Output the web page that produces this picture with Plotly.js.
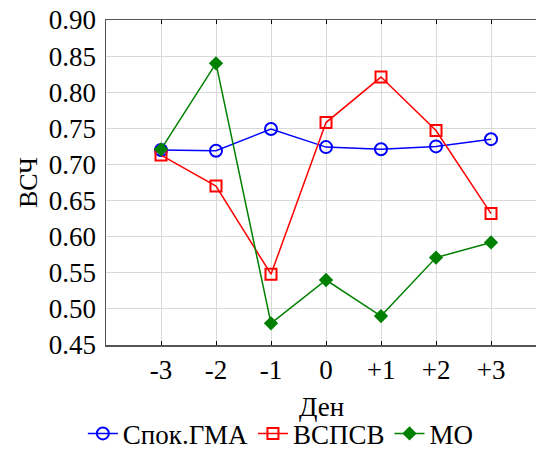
<!DOCTYPE html>
<html>
<head>
<meta charset="utf-8">
<script src="https://cdn.plot.ly/plotly-3.0.1.min.js"></script>
<style>html,body{margin:0;padding:0;background:#fff;}#chart{width:536px;height:451px;}</style>
</head>
<body>
<div id="chart"></div>
<script>
const days = ["-3", "-2", "-1", "0", "+1", "+2", "+3"];
const dayIdx = [0, 1, 2, 3, 4, 5, 6];
const spokGMA = [0.720, 0.719, 0.749, 0.724, 0.721, 0.725, 0.735];
const vspsv = [0.713, 0.670, 0.548, 0.758, 0.821, 0.747, 0.632];
const mo = [0.721, 0.840, 0.480, 0.540, 0.490, 0.571, 0.592];
const seriesNames = ["Спок.ГМА", "ВСПСВ", "МО"];
const yTicks = [0.45, 0.50, 0.55, 0.60, 0.65, 0.70, 0.75, 0.80, 0.85, 0.90];
const xTitle = 'Ден';
const yTitle = 'ВСЧ';

const fontFam = 'Liberation Serif';
const fs = 27;

const traces = [
  {x: dayIdx, y: spokGMA, name: seriesNames[0], mode: 'lines+markers', type: 'scatter',
   line: {color: '#0000ff', width: 1.5},
   marker: {symbol: 'circle-open', size: 12, color: '#0000ff', line: {width: 2, color: '#0000ff'}}},
  {x: dayIdx, y: vspsv, name: seriesNames[1], mode: 'lines+markers', type: 'scatter',
   line: {color: '#ff0000', width: 1.5},
   marker: {symbol: 'square-open', size: 11, color: '#ff0000', line: {width: 2, color: '#ff0000'}}},
  {x: dayIdx, y: mo, name: seriesNames[2], mode: 'lines+markers', type: 'scatter',
   line: {color: '#008000', width: 1.5},
   marker: {symbol: 'diamond', size: 11, color: '#008000'}}
];

const layout = {
  width: 536, height: 451,
  margin: {l: 106, r: 0, t: 20, b: 106},
  paper_bgcolor: '#fff', plot_bgcolor: '#fff',
  font: {family: fontFam, size: fs, color: '#000'},
  showlegend: true,
  legend: {orientation: 'h', xref: 'container', yref: 'container', x: 0.524, y: 0.038,
           xanchor: 'center', yanchor: 'middle', font: {family: fontFam, size: fs, color: '#000'},
           itemwidth: 30, tracegroupgap: 0},
  annotations: [
    {text: xTitle, xref: 'paper', yref: 'paper', x: 0.5, y: -0.19, xanchor: 'center', yanchor: 'middle',
     showarrow: false, font: {family: fontFam, size: fs, color: '#000'}}
  ],
  xaxis: {
    range: [-1, 6.818], tickvals: dayIdx, ticktext: days,
    showgrid: true, gridcolor: '#d9d9d9', gridwidth: 1,
    zeroline: false, showline: true, linecolor: '#555', linewidth: 1.5, mirror: 'ticks',
    ticks: 'inside', ticklen: 4, tickcolor: '#000', tickwidth: 1,
    tickfont: {family: fontFam, size: fs, color: '#000'}
  },
  yaxis: {
    range: [0.45, 0.90], tickvals: yTicks, tickformat: '.2f',
    showgrid: true, gridcolor: '#d9d9d9', gridwidth: 1,
    zeroline: false, showline: true, linecolor: '#555', linewidth: 1.5,
    ticks: '', ticklabelstandoff: 3,
    tickfont: {family: fontFam, size: fs, color: '#000'},
    title: {text: yTitle, font: {family: fontFam, size: 26, color: '#000'}, standoff: 3}
  }
};

Plotly.newPlot('chart', traces, layout, {displayModeBar: false, staticPlot: true});
</script>
</body>
</html>
